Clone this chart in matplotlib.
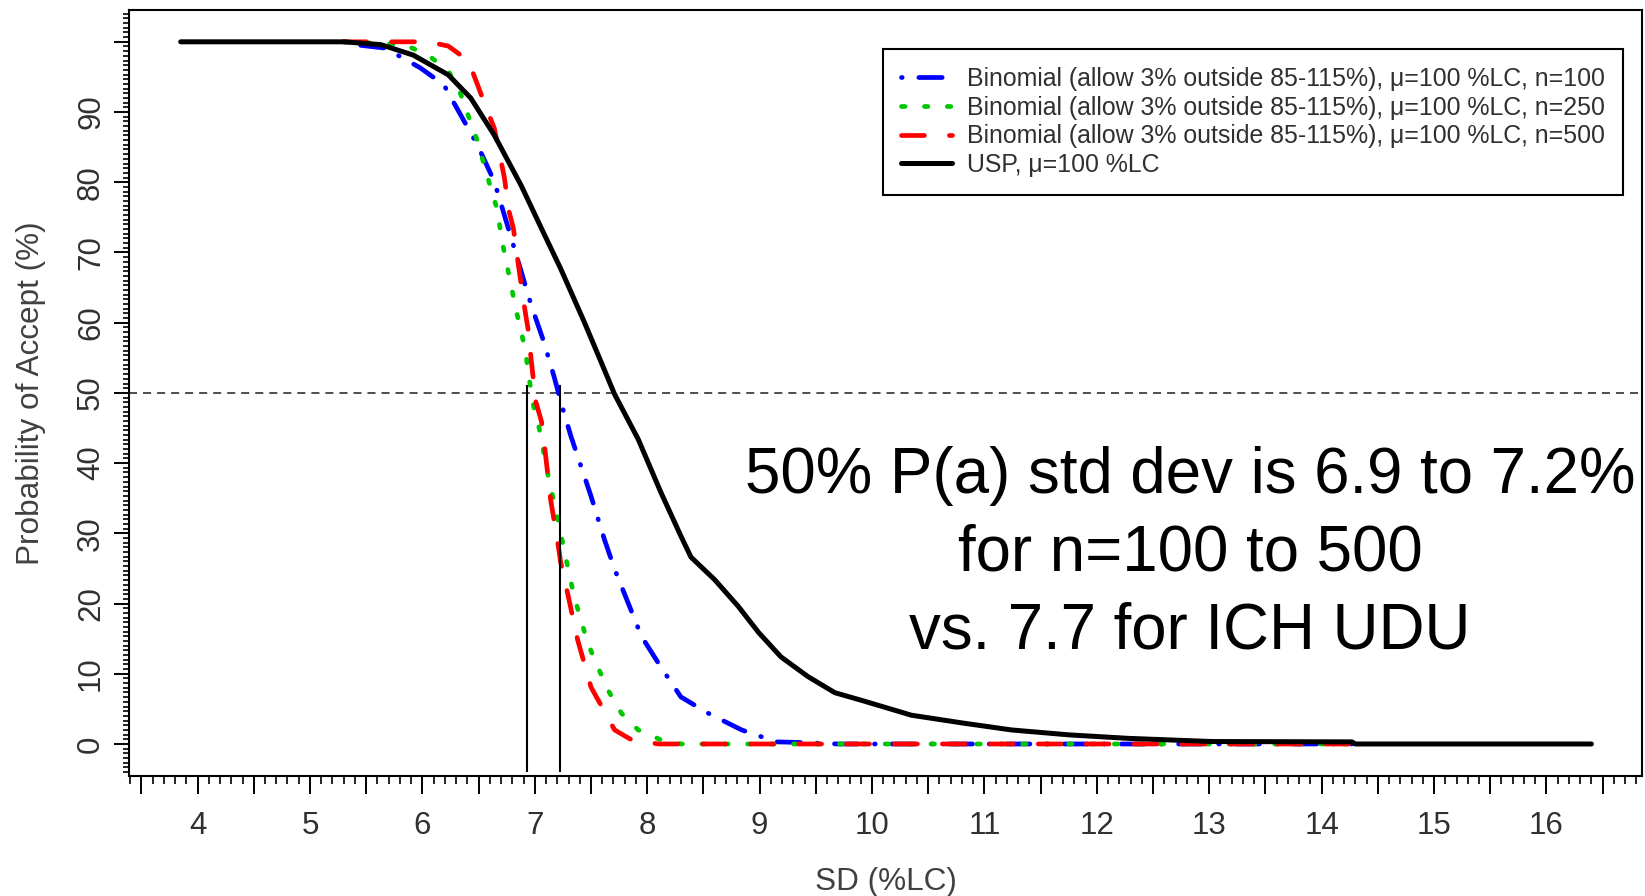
import matplotlib
matplotlib.use("Agg")
import matplotlib.pyplot as plt
from matplotlib.ticker import MultipleLocator, FuncFormatter

plt.rcParams['font.family'] = ['Liberation Sans', 'DejaVu Sans']
plt.rcParams['lines.scale_dashes'] = False

# ---------------- data ----------------
usp_sd = [3.85, 5.30, 5.63, 5.92, 6.23, 6.43, 6.64, 6.88, 7.06, 7.23, 7.44, 7.59, 7.71,
          7.92, 8.12, 8.30, 8.39, 8.60, 8.81, 8.99, 9.19, 9.43, 9.67, 9.91, 10.35, 10.80,
          11.24, 11.75, 12.28, 13.02, 14.27, 14.30, 16.40]
usp_pa = [100, 100, 99.6, 98.1, 95.3, 92.0, 86.7, 79.5, 73.4, 67.7, 60.1, 54.4, 49.8,
          43.4, 35.9, 29.6, 26.6, 23.4, 19.6, 15.9, 12.4, 9.6, 7.3, 6.2, 4.1, 3.0,
          2.0, 1.3, 0.8, 0.35, 0.3, 0.0, 0.0]

n100_sd = [5.30, 5.45, 5.67, 5.98, 6.19, 6.34, 6.49, 6.64, 6.81, 6.97, 7.08, 7.17, 7.25,
           7.32, 7.50, 7.62, 7.71, 7.95, 8.12, 8.30, 8.54, 8.84, 9.15, 9.40, 9.70, 14.27]
n100_pa = [100, 99.5, 99.1, 96.3, 93.9, 89.6, 85.3, 80.1, 71.0, 62.4, 57.3, 52.4, 47.7,
           43.9, 35.3, 29.1, 24.9, 15.3, 11.0, 6.7, 4.4, 2.0, 0.3, 0.2, 0.0, 0.0]

n250_sd = [5.30, 5.84, 6.05, 6.23, 6.34, 6.41, 6.49, 6.55, 6.61, 6.67, 6.70, 6.74, 6.79,
           6.83, 6.88, 6.92, 6.95, 6.99, 7.04, 7.12, 7.21, 7.26, 7.35, 7.47, 7.56, 7.65,
           7.77, 7.92, 8.12, 8.30, 14.27]
n250_pa = [100, 99.6, 98.1, 95.9, 92.6, 89.4, 85.9, 82.4, 79.1, 75.9, 72.4, 69.1, 65.3,
           62.0, 58.7, 55.6, 52.0, 48.1, 44.9, 38.1, 31.6, 27.7, 21.0, 14.4, 11.0, 7.7,
           4.4, 2.0, 0.6, 0.0, 0.0]

n500_sd = [5.30, 6.05, 6.23, 6.41, 6.49, 6.58, 6.64, 6.70, 6.73, 6.77, 6.81, 6.85, 6.90,
           6.94, 6.97, 7.01, 7.06, 7.09, 7.14, 7.21, 7.23, 7.29, 7.38, 7.50, 7.71, 7.86,
           8.10, 14.27]
n500_pa = [100, 100, 99.4, 97.3, 93.9, 90.1, 87.7, 83.0, 80.6, 75.9, 73.4, 68.7, 63.0,
           59.1, 54.4, 48.7, 45.9, 42.0, 34.9, 28.1, 25.9, 21.6, 14.9, 8.1, 2.0, 0.6,
           0.0, 0.0]

labels = ["Binomial (allow 3% outside 85-115%), \u03bc=100 %LC, n=100",
          "Binomial (allow 3% outside 85-115%), \u03bc=100 %LC, n=250",
          "Binomial (allow 3% outside 85-115%), \u03bc=100 %LC, n=500",
          "USP, \u03bc=100 %LC"]

ref_level = 50
sd50_x = [6.93, 7.22]
sd50_y = [51, -3.9]

note_lines = ["50% P(a) std dev is 6.9 to 7.2%", "for n=100 to 500", "vs. 7.7 for ICH UDU"]

# ---------------- figure ----------------
W, H = 1645, 896
fig = plt.figure(figsize=(W / 100, H / 100), dpi=100)
L, R, T, B = 129, 1642, 10.5, 776
ax = fig.add_axes([L / W, 1 - B / H, (R - L) / W, (B - T) / H])

lw = 3.4
ax.plot(n100_sd, n100_pa, color='#0000ff', lw=lw, dashes=(0.5, 12, 16.8, 12),
        dash_capstyle='round', solid_capstyle='round', label=labels[0], zorder=3)
ax.plot(n250_sd, n250_pa, color='#00c800', lw=lw, dashes=(2.5, 14),
        dash_capstyle='round', label=labels[1], zorder=4)
ax.plot(n500_sd, n500_pa, color='#ff0000', lw=lw, dashes=(16.5, 18),
        dash_capstyle='round', label=labels[2], zorder=5)
ax.plot(usp_sd, usp_pa, color='black', lw=3.6, solid_capstyle='round',
        label=labels[3], zorder=6)

ax.axhline(ref_level, color='#404040', lw=1.3, dashes=(5.8, 4.3), zorder=2)
for xv in sd50_x:
    ax.plot([xv, xv], sd50_y, color='black', lw=1.5, zorder=7)

ax.set_xlim(3.39, 16.85)
ax.set_ylim(-4.56, 104.46)

# ticks
ax.xaxis.set_major_locator(MultipleLocator(0.5))
ax.xaxis.set_minor_locator(MultipleLocator(0.1))
ax.xaxis.set_major_formatter(FuncFormatter(
    lambda v, p: f"{v:.0f}" if abs(v - round(v)) < 1e-6 else ""))
ax.yaxis.set_major_locator(MultipleLocator(10))
ax.yaxis.set_minor_locator(MultipleLocator(10 / 15))
ax.yaxis.set_major_formatter(FuncFormatter(
    lambda v, p: f"{v:.0f}" if v < 95 else ""))

tick_col = '#303030'
ax.tick_params(axis='x', which='major', length=13, width=1.4, pad=12.5,
               labelsize=22.5, labelcolor=tick_col)
ax.tick_params(axis='x', which='minor', length=6, width=1.2)
ax.tick_params(axis='y', which='major', length=11, width=1.4, pad=5.5,
               labelsize=22.5, labelcolor=tick_col, labelrotation=90)
ax.tick_params(axis='y', which='minor', length=4.5, width=1.2)
for lab in ax.get_yticklabels():
    lab.set_va('center')

for s in ax.spines.values():
    s.set_linewidth(1.5)

ax.set_xlabel("SD (%LC)", fontsize=22.7, color='#404040', va='center')
ax.xaxis.set_label_coords((886 - L) / (R - L), (B - 882) / (B - T))
ax.set_ylabel("Probability of Accept (%)", fontsize=22.7, color='#404040', va='center')
ax.yaxis.set_label_coords((31 - L) / (R - L), (B - 393) / (B - T))

# legend
leg = ax.legend(loc='upper right', bbox_to_anchor=(1623 / W, 1 - 49 / H),
                bbox_transform=fig.transFigure, borderaxespad=0, fontsize=17.9,
                frameon=True, fancybox=False, framealpha=1, edgecolor='black',
                handlelength=2.05, handletextpad=0.6, labelspacing=0.19,
                borderpad=0.72)
leg.get_frame().set_linewidth(1.5)
for t in leg.get_texts():
    t.set_color('#303030')

# annotation
for line, yb in zip(note_lines, [35.75, 24.64, 13.53]):
    ax.text(12.83, yb, line, fontsize=45.8, ha='center', va='baseline', color='black', zorder=8)

fig.savefig("out.png", dpi=100)
